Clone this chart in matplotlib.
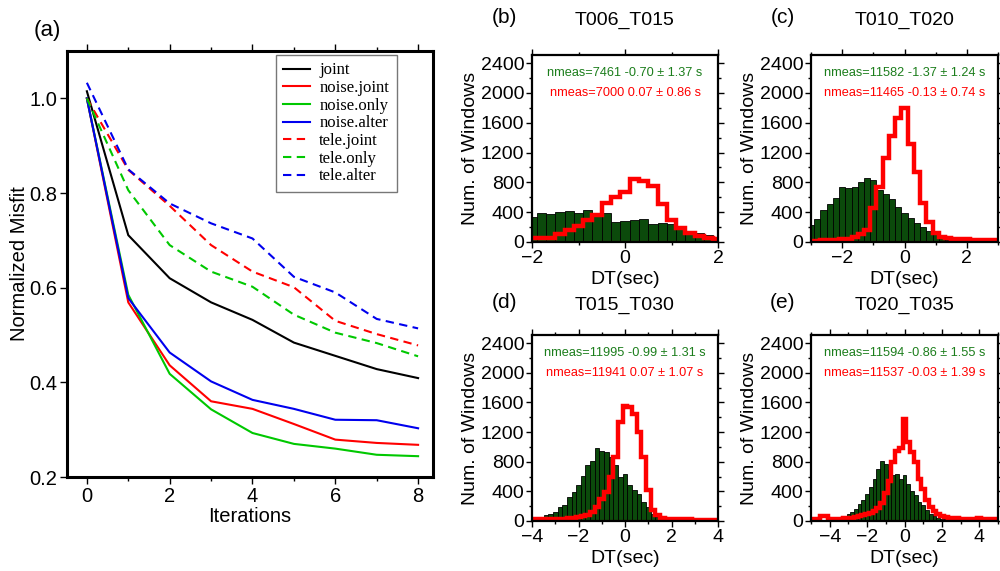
import matplotlib
matplotlib.use("Agg")
import matplotlib.pyplot as plt
import numpy as np
from matplotlib.ticker import MultipleLocator

plt.rcParams["font.family"] = ["Liberation Sans", "DejaVu Sans"]

# ---- panel (a): misfit vs iteration ----
iterations = [0, 1, 2, 3, 4, 5, 6, 7, 8]
misfit = {
    "joint":       [1.015, 0.711, 0.620, 0.569, 0.532, 0.484, 0.456, 0.428, 0.409],
    "noise.joint": [1.000, 0.569, 0.436, 0.360, 0.344, 0.312, 0.279, 0.272, 0.268],
    "noise.only":  [1.000, 0.585, 0.418, 0.343, 0.293, 0.270, 0.260, 0.247, 0.244],
    "noise.alter": [1.000, 0.578, 0.463, 0.402, 0.363, 0.344, 0.321, 0.320, 0.303],
    "tele.joint":  [1.000, 0.849, 0.773, 0.690, 0.634, 0.601, 0.530, 0.502, 0.478],
    "tele.only":   [1.000, 0.806, 0.690, 0.634, 0.602, 0.543, 0.505, 0.483, 0.455],
    "tele.alter":  [1.033, 0.850, 0.778, 0.736, 0.704, 0.623, 0.590, 0.534, 0.514],
}
line_colors = {
    "joint": "black", "noise.joint": "#ff0000", "noise.only": "#00c800",
    "noise.alter": "#0000ee", "tele.joint": "#ff0000", "tele.only": "#00c800",
    "tele.alter": "#0000ee",
}

# ---- histogram panels: DT counts, 0.2 s bins ----
BIN_W = 0.2
titles = ["T006_T015", "T010_T020", "T015_T030", "T020_T035"]
panel_tags = ["(b)", "(c)", "(d)", "(e)"]
first_center = [-2.0, -3.0, -4.0, -5.0]
x_ranges = [(-2, 2), (-3, 3), (-4, 4), (-5, 5)]

green_b = [332, 395, 377, 399, 413, 395, 426, 350, 390, 274, 287, 296, 314, 242,
           256, 242, 184, 126, 117, 94, 72]
red_b = [49, 49, 52, 103, 161, 215, 296, 363, 520, 610, 677, 843, 812, 745, 511,
         296, 184, 126, 81, 58, 45]

green_c = [228, 305, 430, 511, 591, 735, 726, 744, 802, 856, 833, 699, 641, 578,
           475, 385, 318, 260, 206, 148, 103, 55, 30, 18, 10, 6, 4, 3, 2, 1, 1]
red_c = [15, 18, 20, 25, 28, 35, 45, 65, 110, 165, 452, 744, 1124, 1429, 1662,
         1796, 1320, 936, 520, 275, 125, 67, 55, 45, 40, 35, 28, 25, 22, 20, 18]

green_d = [40, 25, 55, 85, 100, 125, 190, 210, 320, 390, 490, 610, 750, 810, 990,
           950, 925, 870, 760, 590, 640, 480, 420, 370, 260, 190, 100, 55, 30, 15,
           8, 5, 4, 3, 3, 2, 2, 1, 1, 1, 0]
red_d = [22, 22, 22, 24, 25, 27, 30, 31, 40, 45, 54, 67, 85, 121, 188, 300, 390,
         592, 861, 1332, 1557, 1534, 1444, 1198, 861, 413, 144, 76, 45, 31, 28, 25,
         22, 20, 20, 18, 18, 16, 16, 15, 15]

green_e = [0, 0, 2, 3, 5, 8, 15, 31, 45, 67, 90, 121, 166, 224, 278, 368, 458, 570,
           704, 816, 772, 682, 620, 640, 560, 620, 500, 400, 345, 260, 210, 145, 100,
           67, 45, 31, 20, 14, 10, 7, 5, 4, 3, 3, 2, 2, 1, 1, 1, 0, 0]
red_e = [25, 25, 28, 65, 65, 25, 25, 28, 30, 35, 40, 45, 55, 65, 75, 90, 110, 140,
         180, 240, 380, 540, 800, 950, 980, 1370, 1060, 935, 790, 560, 430, 280, 190,
         140, 100, 70, 55, 45, 40, 35, 32, 30, 30, 30, 32, 35, 30, 25, 22, 20, 20]

green_counts = [green_b, green_c, green_d, green_e]
red_counts = [red_b, red_c, red_d, red_e]
green_notes = ["nmeas=7461 -0.70 \u00b1 1.37 s", "nmeas=11582 -1.37 \u00b1 1.24 s",
               "nmeas=11995 -0.99 \u00b1 1.31 s", "nmeas=11594 -0.86 \u00b1 1.55 s"]
red_notes = ["nmeas=7000 0.07 \u00b1 0.86 s", "nmeas=11465 -0.13 \u00b1 0.74 s",
             "nmeas=11941 0.07 \u00b1 1.07 s", "nmeas=11537 -0.03 \u00b1 1.39 s"]

BAR_GREEN = "#0b4a0b"
TEXT_GREEN = "#1b7d1b"
RED = "#ff0000"

fig = plt.figure(figsize=(10, 5.71), dpi=100)
fig.patch.set_facecolor("white")

# ---- panel (a) ----
ax = fig.add_axes([0.067, 0.1646, 0.366, 0.746])
for name, vals in misfit.items():
    ls = (0, (4, 2.6)) if name.startswith("tele") else "-"
    ax.plot(iterations, vals, color=line_colors[name], lw=1.5, ls=ls, label=name)
ax.set_xlim(-0.48, 8.36)
ax.set_ylim(0.2, 1.1)
ax.xaxis.set_major_locator(MultipleLocator(2))
ax.xaxis.set_minor_locator(MultipleLocator(1))
ax.yaxis.set_major_locator(MultipleLocator(0.2))
ax.yaxis.set_major_formatter(plt.FuncFormatter(lambda v, _: f"{v:.1f}"))
ax.tick_params(which="both", direction="out", top=True, labelsize=14.5, width=1, pad=2)
ax.tick_params(which="major", length=5)
ax.tick_params(which="minor", length=3)
for sp in ax.spines.values():
    sp.set_linewidth(2.2)
ax.set_xlabel("Iterations", fontsize=14.5, labelpad=1)
ax.set_ylabel("Normalized Misfit", fontsize=14.5, labelpad=0)
leg = ax.legend(loc="upper left", bbox_to_anchor=(0.571, 0.991), prop={"family": "Liberation Serif", "size": 12},
                frameon=True, fancybox=False, edgecolor="#555555", handlelength=1.6,
                handletextpad=0.55, labelspacing=0.1, borderpad=0.45, borderaxespad=0)
leg.get_frame().set_linewidth(1.0)
fig.text(0.047, 0.947, "(a)", fontsize=16, ha="center", va="center")

# ---- histogram panels ----
hist_rects = [
    [0.532, 0.5762, 0.186, 0.3275],
    [0.811, 0.5762, 0.187, 0.3275],
    [0.532, 0.0876, 0.186, 0.3257],
    [0.811, 0.0876, 0.187, 0.3257],
]
title_y = [1.187, 1.187, 1.158, 1.158]
for i, rect in enumerate(hist_rects):
    hx = fig.add_axes(rect)
    g = np.array(green_counts[i])
    r = np.array(red_counts[i])
    centers = first_center[i] + BIN_W * np.arange(len(g))
    edges = first_center[i] - BIN_W / 2 + BIN_W * np.arange(len(r) + 1)
    hx.bar(centers, g, width=BIN_W, color=BAR_GREEN, edgecolor="black", linewidth=0.6, zorder=2)
    hx.stairs(r, edges, baseline=0, color=RED, lw=3.2, zorder=3)
    hx.axhline(0, color="#d00000", lw=2.2, zorder=3)
    hx.set_xlim(*x_ranges[i])
    hx.set_ylim(0, 2510)
    hx.xaxis.set_major_locator(MultipleLocator(2))
    hx.xaxis.set_minor_locator(MultipleLocator(1))
    hx.yaxis.set_major_locator(MultipleLocator(400))
    hx.yaxis.set_minor_locator(MultipleLocator(200))
    hx.tick_params(which="both", direction="out", top=True, right=True, labelsize=14, width=1, pad=1.5)
    hx.tick_params(which="major", length=4)
    hx.tick_params(which="minor", length=2.5)
    for sp in hx.spines.values():
        sp.set_linewidth(1.6)
        sp.set_zorder(4)
    hx.set_xlabel("DT(sec)", fontsize=14, labelpad=3)
    hx.set_ylabel("Num. of Windows", fontsize=14, labelpad=1)
    hx.text(0.5, 0.905, green_notes[i], color=TEXT_GREEN, fontsize=9.2, ha="center", va="center",
            transform=hx.transAxes)
    hx.text(0.5, 0.795, red_notes[i], color=RED, fontsize=9.2, ha="center", va="center",
            transform=hx.transAxes)
    hx.text(0.5, title_y[i], titles[i], fontsize=14, ha="center", va="center", transform=hx.transAxes)
    hx.text(-0.15, title_y[i] + 0.015, panel_tags[i], fontsize=15, ha="center", va="center",
            transform=hx.transAxes)

fig.savefig("out.png", dpi=100, facecolor="white")
